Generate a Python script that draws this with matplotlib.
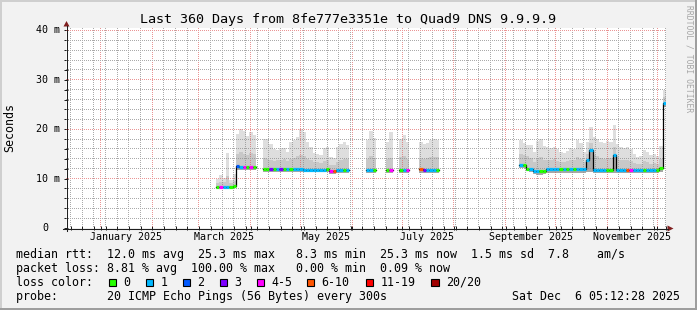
import matplotlib
matplotlib.use("Agg")
import matplotlib.pyplot as plt
import matplotlib.dates as mdates
import matplotlib.transforms as mtrans
from matplotlib.patches import Rectangle, Polygon
from datetime import datetime, timedelta
import numpy as np

# ---------------- data ----------------
start_time = datetime(2024, 12, 11, 5, 12, 28)
end_time = datetime(2025, 12, 6, 5, 12, 28)
bin_days = 2.0

# day offset (from start_time) of each 2-day bin that has data
bin_day = [90, 92, 94, 96, 98, 100, 102, 104, 106, 108, 110, 112,
           118, 120, 122, 124, 126, 128, 130, 132, 134, 136, 138, 140, 142,
           144, 146, 148, 150, 152, 154, 156, 158, 160, 162, 164, 166, 168,
           180, 182, 184,
           192, 194,
           200, 202, 204,
           212, 214, 216, 218, 220, 222,
           272, 274, 276, 278, 280, 282, 284, 286, 288, 290, 292, 294, 296,
           298, 300, 302, 304, 306, 308, 310, 312, 314, 316, 318, 320, 322,
           324, 326, 328, 330, 332, 334, 336, 338, 340, 342, 344, 346, 348,
           350, 352, 354, 356, 358]

median_ms = [8.3, 8.3, 8.3, 8.3, 8.4, 8.5, 12.6, 12.4, 12.4, 12.3, 12.3, 12.3,
             11.9, 11.9, 11.9, 12.0, 11.9, 11.9, 11.9, 11.9, 11.9, 11.9, 11.9, 11.9, 11.8,
             11.8, 11.8, 11.8, 11.8, 11.8, 11.8, 11.9, 11.5, 11.6, 11.8, 11.8, 11.8, 11.8,
             11.7, 11.7, 11.8,
             11.8, 11.8,
             11.8, 11.8, 11.8,
             11.9, 11.8, 11.8, 11.8, 11.8, 11.8,
             12.7, 12.7, 12.0, 11.9, 11.6, 11.5, 11.5, 11.6, 11.9, 11.9, 11.9, 11.9, 11.9,
             11.9, 11.9, 11.9, 11.9, 11.9, 11.9, 11.9, 13.8, 15.8, 11.8, 11.8, 11.8, 11.8,
             11.8, 11.8, 14.8, 11.8, 11.8, 11.8, 11.8, 11.8, 11.8, 11.8, 11.8, 11.8, 11.8,
             11.8, 11.8, 11.8, 12.2, 25.3]

max_ms = [10.0, 10.8, 10.2, 15.1, 9.8, 11.0, 19.0, 20.0, 19.6, 18.6, 19.5, 18.9,
          18.1, 18.0, 17.1, 16.0, 15.8, 16.1, 16.3, 15.4, 17.5, 17.8, 18.5, 20.1, 19.5,
          17.4, 16.4, 15.2, 15.0, 14.7, 16.2, 16.4, 14.3, 14.1, 16.4, 17.0, 17.4, 16.8,
          17.8, 19.6, 18.2,
          17.5, 19.4,
          18.0, 18.8, 17.5,
          17.4, 17.0, 17.2, 17.8, 18.1, 17.9,
          17.8, 17.2, 16.8, 16.8, 15.4, 17.6, 18.1, 16.6, 16.4, 16.2, 16.4, 16.0, 15.4,
          15.2, 15.6, 16.1, 16.0, 17.8, 17.2, 15.4, 17.5, 20.5, 18.4, 18.1, 17.4, 17.2,
          17.6, 17.4, 20.8, 17.0, 16.4, 16.2, 16.4, 16.0, 15.0, 14.4, 14.6, 15.8, 15.4,
          14.7, 14.9, 14.6, 16.6, 28.0]

q3_ms = [9.2, 9.4, 9.3, 10.5, 9.2, 9.5, 15.0, 15.3, 15.0, 14.8, 15.2, 14.9,
         14.2, 14.0, 13.8, 13.6, 13.7, 13.8, 13.9, 13.5, 14.0, 14.2, 14.5, 14.8, 14.6,
         14.0, 13.8, 13.4, 13.3, 13.2, 13.6, 13.8, 12.8, 12.7, 13.4, 13.8, 14.0, 13.9,
         14.0, 14.5, 14.2,
         14.0, 14.2,
         14.3, 14.6, 14.0,
         14.2, 14.0, 14.1, 14.3, 14.4, 14.3,
         15.0, 14.8, 14.5, 14.2, 13.4, 14.0, 14.3, 13.8, 13.8, 13.7, 13.9, 13.6, 13.4,
         13.3, 13.5, 13.8, 13.7, 14.3, 14.0, 13.4, 15.0, 17.2, 14.8, 14.6, 14.2, 14.0,
         14.2, 14.1, 16.5, 14.3, 13.8, 13.7, 13.8, 13.6, 13.2, 12.9, 13.0, 13.5, 13.3,
         13.0, 13.1, 13.0, 13.9, 26.6]

min_ms = [8.0, 8.0, 8.0, 8.0, 8.0, 8.1, 11.8, 11.8, 11.8, 11.8, 11.8, 11.8,
          11.3, 11.3, 11.3, 11.3, 11.3, 11.3, 11.3, 11.3, 11.3, 11.3, 11.3, 11.3, 11.3,
          11.3, 11.3, 11.3, 11.3, 11.3, 11.3, 11.3, 10.9, 10.9, 11.2, 11.2, 11.2, 11.2,
          11.2, 11.2, 11.2,
          11.2, 11.2,
          11.2, 11.2, 11.2,
          11.2, 11.2, 11.2, 11.2, 11.2, 11.2,
          12.1, 12.1, 11.5, 11.3, 10.9, 10.8, 10.8, 10.9, 11.2, 11.2, 11.2, 11.2, 11.2,
          11.2, 11.2, 11.2, 11.2, 11.2, 11.2, 11.2, 11.3, 11.4, 11.2, 11.2, 11.2, 11.2,
          11.2, 11.2, 11.2, 11.2, 11.2, 11.2, 11.2, 11.2, 11.2, 11.2, 11.2, 11.2, 11.2,
          11.2, 11.2, 11.2, 11.4, 24.6]

# packet-loss class index of each bin (index into loss_labels)
loss_idx = [0, 4, 1, 1, 0, 0, 2, 1, 4, 0, 4, 0,
            0, 0, 3, 0, 1, 3, 0, 1, 0, 1, 1, 1, 1,
            1, 1, 1, 1, 1, 1, 0, 4, 5, 1, 1, 0, 1,
            1, 1, 0,
            0, 4,
            0, 1, 4,
            5, 3, 1, 1, 1, 0,
            1, 0, 0, 1, 1, 1, 0, 0, 1, 1, 1, 1, 0,
            1, 0, 1, 0, 1, 1, 1, 1, 1, 1, 1, 1, 1,
            0, 0, 1, 1, 1, 1, 5, 4, 1, 1, 1, 0, 1,
            1, 1, 0, 0, 1]

loss_labels = ["0", "1", "2", "3", "4-5", "6-10", "11-19", "20/20"]
loss_colors = ["#26ff00", "#00b8ff", "#0059ff", "#7e00ff",
               "#ff00ff", "#ff5500", "#ff0000", "#a10000"]

y_ticks = [0, 10, 20, 30, 40]
y_tick_labels = ["0", "10 m", "20 m", "30 m", "40 m"]
month_labels = ["January 2025", "March 2025", "May 2025", "July 2025",
                "September 2025", "November 2025"]
month_label_dates = [datetime(2025, 1, 1), datetime(2025, 3, 1), datetime(2025, 5, 1),
                     datetime(2025, 7, 1), datetime(2025, 9, 1), datetime(2025, 11, 1)]

title = "Last 360 Days from 8fe777e3351e to Quad9 DNS 9.9.9.9"
legend_rtt = "median rtt:  12.0 ms avg  25.3 ms max   8.3 ms min  25.3 ms now  1.5 ms sd  7.8    am/s"
legend_loss = "packet loss: 8.81 % avg  100.00 % max   0.00 % min  0.09 % now"
legend_color = "loss color:"
legend_probe = "probe:       20 ICMP Echo Pings (56 Bytes) every 300s"
legend_date = "Sat Dec  6 05:12:28 2025"

n = len(bin_day)
assert all(len(a) == n for a in [median_ms, max_ms, q3_ms, min_ms, loss_idx])

# ---------------- figure ----------------
W, H = 697, 310
MONO = "DejaVu Sans Mono"
plt.rcParams["font.family"] = [MONO]

fig = plt.figure(figsize=(W / 100, H / 100), dpi=100, facecolor="#f2f2f2")

def fx(p):
    return p / W

def fy(p):
    return 1 - p / H

# borders
fig.add_artist(Rectangle((0, fy(2)), 1, 2 / H, transform=fig.transFigure, color="#cfcfcf", lw=0))
fig.add_artist(Rectangle((0, 0), 2 / W, 1, transform=fig.transFigure, color="#cfcfcf", lw=0))
fig.add_artist(Rectangle((0, 0), 1, 2 / H, transform=fig.transFigure, color="#9e9e9e", lw=0))
fig.add_artist(Rectangle((fx(695), 0), 2 / W, 1, transform=fig.transFigure, color="#9e9e9e", lw=0))

AX_L, AX_T, AX_W, AX_H = 66, 28, 600, 200
YMAX = 40.5
ax = fig.add_axes([fx(AX_L), fy(AX_T + AX_H), AX_W / W, AX_H / H])
ax.set_facecolor("white")
t0 = mdates.date2num(start_time)
t1 = mdates.date2num(end_time)
ax.set_xlim(t0, t1)
ax.set_ylim(0, YMAX)
for s in ax.spines.values():
    s.set_visible(False)

ax.xaxis.set_major_locator(mdates.MonthLocator())
ax.xaxis.set_minor_locator(mdates.WeekdayLocator(byweekday=mdates.SA))
ax.set_yticks(y_ticks)
ax.yaxis.set_minor_locator(matplotlib.ticker.MultipleLocator(2))
ax.tick_params(which="both", direction="inout", length=3.0, width=0.72, color="#1f1f1f",
               labelbottom=False, labelleft=False)

# dotted rrdtool-style grid, rendered pixel-exact as an overlay image
grid = np.zeros((AX_H, AX_W, 4))
minor_rgba = (0.56, 0.56, 0.56, 0.75)
major_rgba = (0.87, 0.31, 0.31, 0.60)

def col_of(x):
    return int(np.floor(AX_W * (x - t0) / (t1 - t0)))

def row_of(y):
    return int(np.floor(AX_H * (1 - y / YMAX)))

for locs, rgba in [(ax.xaxis.get_minorticklocs(), minor_rgba),
                   (ax.xaxis.get_majorticklocs(), major_rgba)]:
    for x in locs:
        c = col_of(x)
        if 1 <= c < AX_W:
            grid[0::2, c] = rgba
for locs, rgba in [(ax.yaxis.get_minorticklocs(), minor_rgba),
                   (ax.yaxis.get_majorticklocs(), major_rgba)]:
    for y in locs:
        r = row_of(y)
        if 0 <= r < AX_H and y > 0:
            grid[r, 0::2] = rgba
ax.imshow(grid, extent=(t0, t1, 0, YMAX), aspect="auto", interpolation="nearest",
          origin="upper", zorder=2)
ax.set_xlim(t0, t1)
ax.set_ylim(0, YMAX)

# smoke
x_bins = np.array([mdates.date2num(start_time + timedelta(days=d)) for d in bin_day])
med = np.array(median_ms)
ax.bar(x_bins, np.array(max_ms) - med, bottom=med, width=bin_days, align="edge",
       color="#dedede", linewidth=0, zorder=1)
ax.bar(x_bins, np.array(q3_ms) - med, bottom=med, width=bin_days, align="edge",
       color="#c8c8c8", linewidth=0, zorder=1.1)
ax.bar(x_bins, med - np.array(min_ms), bottom=np.array(min_ms), width=bin_days, align="edge",
       color="#a8a8a8", linewidth=0, zorder=1.1)

# median black step line, split into contiguous runs
runs = []
cur = [0]
for i in range(1, n):
    if bin_day[i] - bin_day[i - 1] == bin_days:
        cur.append(i)
    else:
        runs.append(cur)
        cur = [i]
runs.append(cur)
for r in runs:
    xs = list(x_bins[r]) + [x_bins[r[-1]] + bin_days]
    ys = list(med[r]) + [med[r[-1]]]
    ax.step(xs, ys, where="post", color="#000000", lw=0.9, zorder=3)

# median coloured by loss
ax.hlines(med, x_bins, x_bins + bin_days, colors=[loss_colors[k] for k in loss_idx],
          linewidth=2.3, zorder=4)

# y labels
ylab_tr = mtrans.blended_transform_factory(fig.transFigure, ax.transData)
for v, lab in zip(y_ticks, y_tick_labels):
    xr = 60 if lab != "0" else 48
    ax.text(fx(xr), v, lab, transform=ylab_tr, ha="right", va="center", fontsize=7.2,
            color="#000000", clip_on=False)

# month labels (centered half a month after the month start)
xlab_tr = mtrans.blended_transform_factory(ax.transData, fig.transFigure)
for d, lab in zip(month_label_dates, month_labels):
    ax.text(mdates.date2num(d + timedelta(days=15)), fy(237.5), lab, transform=xlab_tr,
            ha="center", va="center", fontsize=7.2, clip_on=False)

# axes lines & arrows
axis_col = "#1f1f1f"
arrow_col = "#801f1f"
fig.add_artist(matplotlib.lines.Line2D([fx(66.5), fx(66.5)], [fy(231), fy(25.5)],
                                       transform=fig.transFigure, color=axis_col, lw=0.75))
fig.add_artist(matplotlib.lines.Line2D([fx(63), fx(668)], [fy(228.5), fy(228.5)],
                                       transform=fig.transFigure, color=axis_col, lw=0.75))
fig.add_artist(Polygon([(fx(63.5), fy(26.5)), (fx(69.5), fy(26.5)), (fx(66.5), fy(21))],
                       closed=True, transform=fig.transFigure, color=arrow_col, lw=0))
fig.add_artist(Polygon([(fx(667.5), fy(225.5)), (fx(667.5), fy(231.5)), (fx(673.5), fy(228.5))],
                       closed=True, transform=fig.transFigure, color=arrow_col, lw=0))

# texts
fig.text(fx(348.5), fy(19), title, ha="center", va="center", fontsize=9.6)
fig.text(fx(10), fy(127.5), "Seconds", rotation=90, ha="center", va="center", fontsize=8.4)
fig.text(fx(688.5), fy(5), "RRDTOOL / TOBI OETIKER", rotation=270, ha="center", va="top",
         fontsize=5.8, color="#a6a6a6")

fig.text(fx(16), fy(254.3), legend_rtt, ha="left", va="center", fontsize=8.4)
fig.text(fx(16), fy(268.3), legend_loss, ha="left", va="center", fontsize=8.4)
fig.text(fx(16), fy(282.3), legend_color, ha="left", va="center", fontsize=8.4)
fig.text(fx(16), fy(296.3), legend_probe, ha="left", va="center", fontsize=8.4)
fig.text(fx(680), fy(296.3), legend_date, ha="right", va="center", fontsize=8.4)

box_x = [108.5, 145.5, 182.5, 219.5, 256.5, 306.5, 365.5, 431.0]
for bx, lab, col in zip(box_x, loss_labels, loss_colors):
    fig.add_artist(Rectangle((fx(bx), fy(286)), 7.5 / W, 7.5 / H, transform=fig.transFigure,
                             facecolor=col, edgecolor="#000000", lw=0.8))
    fig.text(fx(bx + 15), fy(282.3), lab, ha="left", va="center", fontsize=8.4)

fig.savefig("out.png", dpi=100, facecolor=fig.get_facecolor())
